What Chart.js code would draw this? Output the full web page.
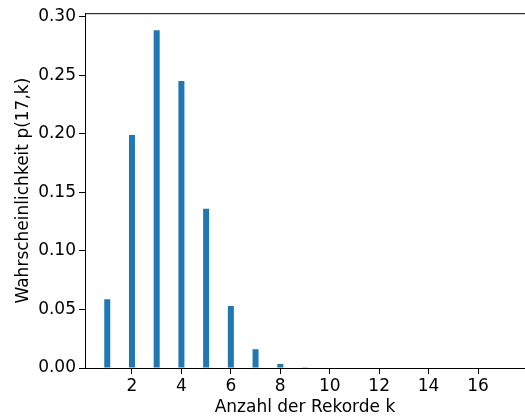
<!DOCTYPE html>
<html>
<head>
<meta charset="utf-8">
<script src="https://cdn.jsdelivr.net/npm/chart.js@4/dist/chart.umd.min.js"></script>
<style>
  html, body { margin: 0; padding: 0; background: #fff; }
</style>
</head>
<body>
<canvas id="records" width="525" height="418"></canvas>
<script>
'use strict'

// Anzahl der Rekorde k und Wahrscheinlichkeit p(17,k)
const ks = [1, 2, 3, 4, 5, 6, 7, 8, 9, 10, 11, 12, 13, 14, 15, 16, 17];
const probs = [0.0588, 0.199, 0.2885, 0.245, 0.136, 0.053, 0.016, 0.0035, 0.0006,
               0, 0, 0, 0, 0, 0, 0, 0];
const xTicks = [2, 4, 6, 8, 10, 12, 14, 16];
const yTicks = [0, 0.05, 0.10, 0.15, 0.20, 0.25, 0.30];

Chart.defaults.font.family = 'DejaVu Sans';
Chart.defaults.font.size = 17;
Chart.defaults.color = '#000';

// obere Achsenlinie wie bei matplotlib
const topSpine = {
  id: 'topSpine',
  afterDraw(chart) {
    const {ctx, chartArea} = chart;
    ctx.save();
    ctx.strokeStyle = '#000';
    ctx.lineWidth = 1;
    ctx.beginPath();
    ctx.moveTo(chartArea.left, chartArea.top + 0.5);
    ctx.lineTo(chartArea.right, chartArea.top + 0.5);
    ctx.stroke();
    ctx.restore();
  }
};

const recordsChart = new Chart(document.getElementById('records'), {
  type: 'bar',
  data: {
    datasets: [{
      data: ks.map((k, i) => ({x: k, y: probs[i]})),
      backgroundColor: '#1f77b4',
      borderWidth: 0,
      inflateAmount: 0,
      barThickness: 6,
    }]
  },
  options: {
    responsive: false,
    animation: false,
    layout: { padding: {top: 13, left: 0, right: 0, bottom: 0} },
    plugins: { legend: {display: false}, tooltip: {enabled: false} },
    scales: {
      x: {
        type: 'linear',
        offset: false,
        min: 0.1,
        max: 17.9,
        afterBuildTicks: s => { s.ticks = xTicks.map(v => ({value: v})); },
        afterFit: s => { s.height = 50; },
        grid: { display: true, offset: false, drawOnChartArea: false, tickLength: 6, color: '#000' },
        border: { display: true, color: '#000', width: 1 },
        ticks: { padding: 2, autoSkip: false, maxRotation: 0, callback: v => String(v) },
        title: { display: true, text: 'Anzahl der Rekorde k', font: {size: 17}, padding: {top: 0, bottom: 0} }
      },
      y: {
        min: 0,
        max: 0.303,
        afterBuildTicks: s => { s.ticks = yTicks.map(v => ({value: v})); },
        afterFit: s => { s.width = 85; },
        grid: { display: true, drawOnChartArea: false, tickLength: 6, color: '#000' },
        border: { display: true, color: '#000', width: 1 },
        ticks: { padding: 3, callback: v => Number(v).toFixed(2) },
        title: { display: true, text: 'Wahrscheinlichkeit p(17,k)', font: {size: 17}, padding: {top: 13, bottom: 0} }
      }
    }
  },
  plugins: [topSpine]
})
</script>
</body>
</html>
